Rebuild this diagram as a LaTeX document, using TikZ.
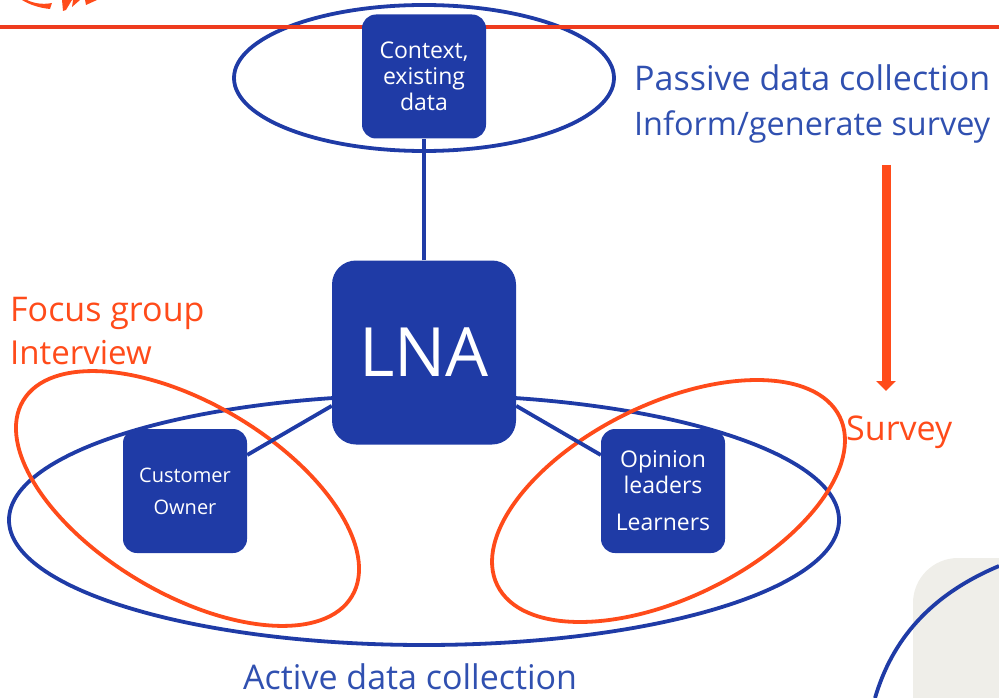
\documentclass[tikz,border=0pt]{standalone}
\usepackage{fontspec}
\setmainfont{Open Sans}
\usetikzlibrary{backgrounds,arrows.meta}
\definecolor{lnablue}{HTML}{1F3BA6}
\definecolor{lnared}{HTML}{FF4B1A}
\definecolor{rulered}{HTML}{EE3B1E}
\definecolor{lnagrey}{HTML}{EFEEE9}
\definecolor{textblue}{HTML}{3050B0}
\tikzset{
  box/.style={fill=lnablue,rounded corners=14pt,text=white,minimum width=124pt,minimum height=124pt,inner sep=0pt,align=center,font=\fontsize{20}{26}\selectfont},
  bigtext/.style={font=\fontsize{23}{26}\selectfont},
  link/.style={draw=lnablue,line width=3.8pt},
  blueloop/.style={draw=lnablue,line width=3.8pt},
  redloop/.style={draw=lnared,line width=3.8pt},
  bluelabel/.style={text=textblue,anchor=west,inner sep=0pt,font=\fontsize{34}{45}\selectfont},
  redlabel/.style={text=lnared,anchor=west,inner sep=0pt,font=\fontsize{34}{45}\selectfont},
}
\begin{document}
\begin{tikzpicture}[x=1pt,y=1pt]
\useasboundingbox (0,0) rectangle (999,-698);
\clip (0,0) rectangle (999,-698);
% logo fragments and header rule
\fill[lnared] (27,0) .. controls (33,-3) and (42,-5) .. (52,-3) -- (50,-9) .. controls (40,-8) and (30,-5) .. (22,0) -- cycle;
\fill[lnared] (62,0) -- (72,0) -- (66,-10) -- (63,-11) -- cycle;
\fill[lnared] (73,0) -- (80,0) -- (72,-7) -- cycle;
\fill[lnared] (85,0) -- (97,0) -- (86,-5) -- cycle;
\fill[rulered] (0,-25.5) rectangle (999,-29);
% grey panel and its curve
\fill[lnagrey] (1020,-558) -- (958,-558) arc[start angle=90,end angle=180,radius=45] -- (913,-720) -- (1020,-720) -- cycle;
\draw[blueloop] (875,-698) .. controls (892,-640) and (930,-595) .. (999,-566);
% nodes
\node[box,bigtext] (ctx) at (424,-76.5) {Context,\\existing\\data};
\node[box,minimum width=184pt,minimum height=184pt,rounded corners=24pt,font=\fontsize{68}{70}\selectfont] (lna) at (424,-352.5) {LNA};
\node[box] (cust) at (185,-491) {Customer\\[6pt]Owner};
\node[box,bigtext] (opin) at (663,-491) {Opinion\\leaders\\[11pt]Learners};
\begin{scope}[on background layer]
  \draw[blueloop] (424,-78) ellipse[x radius=190,y radius=73];
  \draw[blueloop] (424,-520) ellipse[x radius=415,y radius=125];
  \draw[redloop] (187.5,-498.5) ellipse[x radius=191.3,y radius=95.2,rotate=-30.7];
  \draw[redloop] (668.5,-501) ellipse[x radius=190.8,y radius=96.8,rotate=26.2];
  \draw[link] (lna) -- (ctx);
  \draw[link] (lna) -- (cust);
  \draw[link] (lna) -- (opin);
\end{scope}
% labels
\node[bluelabel] (passive) at (634,-78) {Passive data collection};
\node[bluelabel,font=\fontsize{32.4}{45}\selectfont] (inform) at (634,-127) {Inform/generate survey};
\node[bluelabel] (active) at (243,-677) {Active data collection};
\node[redlabel] (focus) at (10,-313) {Focus group};
\node[redlabel,font=\fontsize{33}{45}\selectfont] (interview) at (10,-353) {Interview};
\node[redlabel] (survey) at (846,-432) {Survey};
\coordinate (arrowtop) at (886,-165);
\coordinate (arrowend) at (886,-391);
\draw[lnared,line width=9pt,-{Triangle[length=10pt,width=19pt]}] (arrowtop) -- (arrowend);
\end{tikzpicture}
\end{document}
